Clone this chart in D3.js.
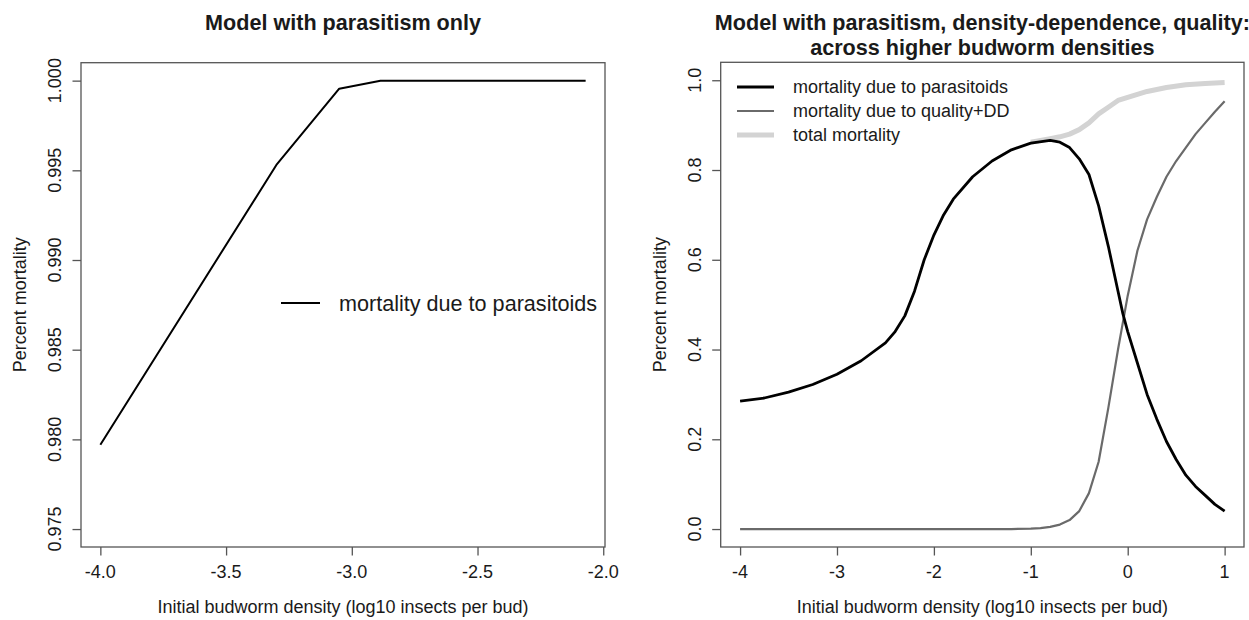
<!DOCTYPE html>
<html><head><meta charset="utf-8">
<script src="https://cdn.jsdelivr.net/npm/d3@7/dist/d3.min.js"></script>
<style>body{margin:0;background:#fff}svg{display:block}text{font-family:"Liberation Sans",Arial,sans-serif;fill:#1a1a1a}</style>
</head><body><svg id="c" width="1249" height="620"></svg>
<script>
// ---- Left panel data ----
const leftX = [-4.0, -3.30, -3.05, -2.886, -2.77, -2.68, -2.60, -2.40, -2.20, -2.07];
const leftY = [0.9797, 0.9953, 0.99955, 0.99999, 1.0, 1.0, 1.0, 1.0, 1.0, 1.0];
const leftXTicks = [-4.0, -3.5, -3.0, -2.5, -2.0];
const leftYTicks = [0.975, 0.980, 0.985, 0.990, 0.995, 1.000];

// ---- Right panel data ----
const paraX = [-4.0,-3.75,-3.5,-3.25,-3.0,-2.75,-2.5,-2.4,-2.3,-2.2,-2.1,-2.0,-1.9,-1.8,-1.6,-1.4,-1.2,-1.0,-0.8,-0.7,-0.6,-0.5,-0.4,-0.3,-0.2,-0.1,-0.05,0.0,0.1,0.2,0.3,0.4,0.5,0.6,0.7,0.8,0.9,1.0];
const paraY = [0.285,0.292,0.305,0.322,0.345,0.375,0.415,0.44,0.475,0.53,0.60,0.655,0.70,0.735,0.785,0.82,0.845,0.86,0.866,0.862,0.85,0.825,0.79,0.72,0.63,0.53,0.48,0.44,0.37,0.30,0.245,0.195,0.155,0.12,0.095,0.075,0.055,0.04];
const qualX = [-4.0,-3.0,-2.0,-1.2,-1.0,-0.9,-0.8,-0.7,-0.6,-0.5,-0.4,-0.3,-0.2,-0.1,0.0,0.1,0.2,0.3,0.4,0.5,0.6,0.7,0.8,0.9,1.0];
const qualY = [0,0,0,0,0.001,0.002,0.005,0.01,0.02,0.04,0.08,0.15,0.27,0.40,0.52,0.62,0.69,0.74,0.785,0.82,0.85,0.88,0.905,0.93,0.953];
const totX = [-1.0,-0.9,-0.8,-0.7,-0.6,-0.5,-0.4,-0.3,-0.2,-0.1,0.0,0.2,0.4,0.6,0.8,1.0];
const totY = [0.862,0.866,0.870,0.874,0.880,0.890,0.905,0.925,0.940,0.955,0.962,0.975,0.984,0.990,0.993,0.995];
const rightXTicks = [-4, -3, -2, -1, 0, 1];
const rightYTicks = [0.0, 0.2, 0.4, 0.6, 0.8, 1.0];

const svg = d3.select("#c");
const FONT = 18;

function panel(o) {
  const x = d3.scaleLinear().domain(o.xdom).range([o.left, o.right]);
  const y = d3.scaleLinear().domain(o.ydom).range([o.bottom, o.top]);
  const g = svg.append("g");
  // x ticks
  const ax = g.append("g").attr("transform", `translate(0,${o.bottom})`)
    .call(d3.axisBottom(x).tickValues(o.xt).tickSize(8.5).tickFormat(""));
  ax.select(".domain").remove();
  ax.selectAll("line").attr("stroke", "#555").attr("stroke-width", 1.3);
  const ay = g.append("g").attr("transform", `translate(${o.left},0)`)
    .call(d3.axisLeft(y).tickValues(o.yt).tickSize(8.5).tickFormat(""));
  ay.select(".domain").remove();
  ay.selectAll("line").attr("stroke", "#555").attr("stroke-width", 1.3);
  // tick labels
  g.selectAll(".xl").data(o.xt).join("text")
    .attr("x", d => x(d)).attr("y", o.bottom + 25).attr("dy", "0.35em")
    .attr("text-anchor", "middle").attr("font-size", FONT)
    .text(d => d.toFixed(o.xdec));
  g.selectAll(".yl").data(o.yt).join("text")
    .attr("transform", d => `translate(${o.left - 26},${y(d)}) rotate(-90)`)
    .attr("dy", "0.35em").attr("text-anchor", "middle").attr("font-size", FONT)
    .text(d => d.toFixed(o.ydec));
  // axis titles
  g.append("text").attr("x", (o.left + o.right) / 2).attr("y", o.bottom + 60).attr("dy", "0.35em")
    .attr("text-anchor", "middle").attr("font-size", FONT)
    .text("Initial budworm density (log10 insects per bud)");
  g.append("text").attr("transform", `translate(${o.left - 61},${(o.top + o.bottom) / 2}) rotate(-90)`)
    .attr("dy", "0.35em").attr("text-anchor", "middle").attr("font-size", FONT)
    .text("Percent mortality");
  // titles
  o.title.forEach((t, i) => {
    g.append("text").attr("x", (o.left + o.right) / 2).attr("y", 22 + i * 25).attr("dy", "0.35em")
      .attr("text-anchor", "middle").attr("font-size", 21.6).attr("font-weight", "bold").text(t);
  });
  return {g, x, y};
}

function drawLine(p, xs, ys, color, w) {
  const pts = xs.map((v, i) => [v, ys[i]]);
  p.g.append("path").datum(pts)
    .attr("d", d3.line().x(d => p.x(d[0])).y(d => p.y(d[1])))
    .attr("fill", "none").attr("stroke", color).attr("stroke-width", w)
    .attr("stroke-linejoin", "round").attr("stroke-linecap", "butt");
}

function box(o) {
  svg.append("rect").attr("x", o.left).attr("y", o.top)
    .attr("width", o.right - o.left).attr("height", o.bottom - o.top)
    .attr("fill", "none").attr("stroke", "#555").attr("stroke-width", 1.3);
}

// Left panel
const L = {left: 81, right: 605, top: 62.7, bottom: 547,
  xdom: [-4.077, -1.993], ydom: [0.974, 1.001], xt: leftXTicks, yt: leftYTicks,
  xdec: 1, ydec: 3, title: ["Model with parasitism only"]};
const pL = panel(L);
drawLine(pL, leftX, leftY, "#000", 2);
box(L);
// left legend
pL.g.append("line").attr("x1", 281).attr("x2", 320).attr("y1", 303).attr("y2", 303)
  .attr("stroke", "#000").attr("stroke-width", 2.2);
pL.g.append("text").attr("x", 339).attr("y", 303).attr("dy", "0.35em")
  .attr("font-size", 21.6).text("mortality due to parasitoids");

// Right panel
const R = {left: 720.7, right: 1244, top: 62.3, bottom: 547,
  xdom: [-4.2, 1.2], ydom: [-0.04, 1.04], xt: rightXTicks, yt: rightYTicks,
  xdec: 0, ydec: 1, title: ["Model with parasitism, density-dependence, quality:", "across higher budworm densities"]};
const pR = panel(R);
drawLine(pR, totX, totY, "#d3d3d3", 5);
drawLine(pR, qualX, qualY, "#6a6a6a", 2.2);
drawLine(pR, paraX, paraY, "#000", 2.8);
box(R);
const leg = [
  {t: "mortality due to parasitoids", c: "#000", w: 2.8},
  {t: "mortality due to quality+DD", c: "#6a6a6a", w: 2.2},
  {t: "total mortality", c: "#d3d3d3", w: 5}
];
leg.forEach((d, i) => {
  const yy = 87 + i * 24;
  pR.g.append("line").attr("x1", 737).attr("x2", 774).attr("y1", yy).attr("y2", yy)
    .attr("stroke", d.c).attr("stroke-width", d.w);
  pR.g.append("text").attr("x", 793).attr("y", yy).attr("dy", "0.35em")
    .attr("font-size", FONT).text(d.t);
});
</script></body></html>
